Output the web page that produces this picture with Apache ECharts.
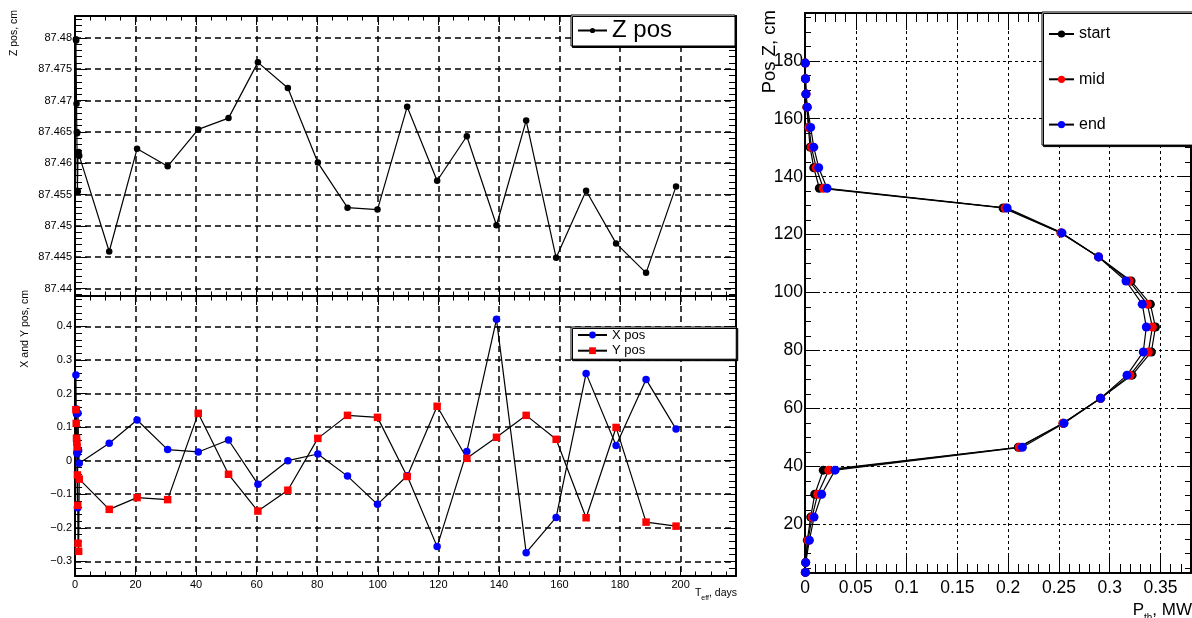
<!DOCTYPE html>
<html><head><meta charset="utf-8">
<script src="https://cdn.jsdelivr.net/npm/echarts@6/dist/echarts.min.js"></script>
<style>html,body{margin:0;padding:0;background:#fff}#c{width:1192px;height:618px}</style>
</head><body><div id="c"></div>
<script>
const FONT = '"Liberation Sans", Arial, Helvetica, sans-serif';

// ---- Left panels: time in days
const tDays = [0.3,0.4,0.5,0.6,0.7,0.8,0.9,1.0,1.2,1.4,
  11.3,20.5,30.6,40.7,50.7,60.4,70.3,80.2,90.0,99.9,109.7,119.6,129.4,139.2,149.0,158.9,168.8,178.7,188.6,198.5];
const zPos = [87.4798,87.4796,87.4695,87.4650,87.4648,87.4556,87.4555,87.4614,87.4618,87.4612,
  87.4459,87.4623,87.4595,87.4654,87.4672,87.4761,87.4720,87.4601,87.4529,87.4526,87.4690,87.4572,87.4643,87.4501,87.4668,87.4449,87.4556,87.4472,87.4425,87.4563];
const xPos = [0.255,0.154,0.139,0.025,0.021,-0.139,-0.140,0.141,0.030,-0.008,
  0.052,0.121,0.033,0.026,0.0615,-0.070,0.000,0.020,-0.046,-0.130,-0.045,-0.256,0.027,0.421,-0.274,-0.169,0.260,0.045,0.242,0.094];
const yPos = [0.152,0.111,0.067,0.055,0.041,-0.0425,-0.133,-0.246,-0.270,-0.055,
  -0.145,-0.110,-0.116,0.141,-0.0405,-0.150,-0.088,0.0665,0.135,0.129,-0.047,0.162,0.007,0.0696,0.135,0.0636,-0.170,0.099,-0.183,-0.195];

// ---- Right panel: axial profile
const zCm = [3.4,6.8,14.5,22.5,30.4,38.7,46.6,54.9,63.5,71.5,79.5,88.1,96.0,104.0,112.3,120.6,129.2,136.0,143.1,150.2,157.0,164.0,168.5,173.8,179.2];
const pStart = [0.0003,0.0006,0.0023,0.0056,0.0096,0.0180,0.210,0.254,0.291,0.322,0.341,0.345,0.340,0.321,0.289,0.252,0.195,0.0141,0.0086,0.0050,0.0033,0.0018,0.0008,0.0004,0.0002];
const pMid   = [0.0003,0.0006,0.0030,0.0069,0.0125,0.0234,0.211,0.254,0.291,0.320,0.338,0.342,0.337,0.319,0.289,0.252,0.197,0.0180,0.0110,0.0063,0.0040,0.0020,0.0010,0.0005,0.0003];
const pEnd   = [0.0004,0.0007,0.0043,0.0089,0.0164,0.0296,0.214,0.255,0.291,0.317,0.333,0.336,0.332,0.316,0.289,0.253,0.199,0.0217,0.0135,0.0086,0.0056,0.0023,0.0010,0.0005,0.0003];

// axis ranges (ROOT auto ranges)
const tRange = [0, 218.3];
const zRange = [87.4388, 87.4835];
const xyRange = [-0.3435, 0.4905];
const pRange = [0, 0.38];
const zcmRange = [3.2, 196.5];

function fmt(v){ return String(+(+v).toFixed(6)).replace('-', '\u2212'); }

function ax(o){
  return {
    type:'value', gridIndex:o.grid, position:o.pos,
    min:o.range[0], max:o.range[1], splitNumber:o.split,
    axisLine:{show:true, onZero:false, lineStyle:{color:'#000', width:2}},
    axisTick:{show:true, inside:true, length:o.tick, lineStyle:{color:'#000', width:1}},
    minorTick:{show:true, splitNumber:o.minor, length:o.minorLen, lineStyle:{color:'#000', width:1}},
    axisLabel: o.fs ? {show:true, margin:o.margin, fontSize:o.fs, fontFamily:FONT, color:'#000',
        formatter:fmt, showMinLabel:o.showMin, showMaxLabel:false} : {show:false},
    splitLine: o.gridLines ? {show:true, lineStyle:{color:'#000', width:o.gw, type:o.dash}} : {show:false},
    minorSplitLine:{show:false}
  };
}

const Ldash = [6,4], Rdash = [3,3];
const xAxes = [
  ax({grid:0,pos:'bottom',range:tRange,split:11,tick:9,minor:4,minorLen:4.5,gridLines:true,gw:1.5,dash:Ldash}),
  ax({grid:0,pos:'top',range:tRange,split:11,tick:9,minor:4,minorLen:4.5}),
  ax({grid:1,pos:'bottom',range:tRange,split:11,tick:9,minor:4,minorLen:4.5,gridLines:true,gw:1.5,dash:Ldash,fs:11,margin:3,showMin:true}),
  ax({grid:1,pos:'top',range:tRange,split:11,tick:9,minor:4,minorLen:4.5}),
  ax({grid:2,pos:'bottom',range:pRange,split:8,tick:17,minor:5,minorLen:9,gridLines:true,gw:1,dash:Rdash,fs:17.5,margin:6,showMin:true}),
  ax({grid:2,pos:'top',range:pRange,split:8,tick:17,minor:5,minorLen:9})
];
const yAxes = [
  ax({grid:0,pos:'left',range:zRange,split:9,tick:12,minor:5,minorLen:7,gridLines:true,gw:1.5,dash:Ldash,fs:11,margin:3,showMin:false}),
  ax({grid:0,pos:'right',range:zRange,split:9,tick:12,minor:5,minorLen:7}),
  ax({grid:1,pos:'left',range:xyRange,split:8,tick:12,minor:5,minorLen:7,gridLines:true,gw:1.5,dash:Ldash,fs:11,margin:3,showMin:false}),
  ax({grid:1,pos:'right',range:xyRange,split:8,tick:12,minor:5,minorLen:7}),
  ax({grid:2,pos:'left',range:zcmRange,split:10,tick:12,minor:4,minorLen:6,gridLines:true,gw:1,dash:Rdash,fs:17.5,margin:2,showMin:false}),
  ax({grid:2,pos:'right',range:zcmRange,split:10,tick:12,minor:4,minorLen:6})
];

function lineSeries(name, xi, yi, xs, ys, sym, size, color){
  return {
    name, type:'line', xAxisIndex:xi, yAxisIndex:yi,
    data: xs.map((x,i)=>[x, ys[i]]),
    symbol:sym, symbolSize:size, showSymbol:true,
    lineStyle:{color:'#000', width:1.2},
    itemStyle:{color:color},
    emphasis:{disabled:true}, silent:true, clip:false
  };
}

const legendBase = {
  selectedMode:false, backgroundColor:'#fff', borderColor:'#000', borderWidth:1,
  shadowColor:'#000', shadowOffsetX:1.5, shadowOffsetY:1.5, shadowBlur:0, borderRadius:0,
  orient:'vertical', align:'left'
};

const option = {
  animation:false,
  grid:[
    {left:75, top:16, width:661, height:280, outerBoundsMode:'none'},
    {left:75, top:296, width:661, height:280, outerBoundsMode:'none'},
    {left:805, top:13, width:386, height:560, outerBoundsMode:'none'}
  ],
  xAxis:xAxes, yAxis:yAxes,
  legend:[
    Object.assign({}, legendBase, {data:['Z pos'], left:571, top:15, padding:[3.5,63,3.5,6],
      itemWidth:29, itemHeight:6.5, textStyle:{fontSize:24, fontFamily:FONT, color:'#000'}}),
    Object.assign({}, legendBase, {data:['X pos','Y pos'], left:571, top:327, padding:[1.5,91,2,6], itemGap:2.7,
      itemWidth:29, itemHeight:8.5, textStyle:{fontSize:13, fontFamily:FONT, color:'#000'}}),
    Object.assign({}, legendBase, {data:['start','mid','end'], left:1042, top:12, padding:[14,100,12.5,6], itemGap:29.3,
      itemWidth:25, itemHeight:9, textStyle:{fontSize:16, fontFamily:FONT, color:'#000'}})
  ],
  series:[
    lineSeries('Z pos', 0, 0, tDays, zPos, 'circle', 6.5, '#000'),
    lineSeries('X pos', 2, 2, tDays, xPos, 'circle', 7.5, '#0000ff'),
    lineSeries('Y pos', 2, 2, tDays, yPos, 'rect', 7.5, '#ff0000'),
    lineSeries('start', 4, 4, pStart, zCm, 'circle', 9, '#000'),
    lineSeries('mid', 4, 4, pMid, zCm, 'circle', 9, '#ff0000'),
    lineSeries('end', 4, 4, pEnd, zCm, 'circle', 9, '#0000ff')
  ],
  graphic:[
    {type:'text', x:14, y:10, rotation:Math.PI/2, silent:true,
      style:{text:'Z pos, cm', font:'10.5px '+FONT, fill:'#000', textAlign:'right', textVerticalAlign:'middle', align:'right', verticalAlign:'middle'}},
    {type:'text', x:25.5, y:290, rotation:Math.PI/2, silent:true,
      style:{text:'X and Y pos, cm', font:'10.6px '+FONT, fill:'#000', textAlign:'right', textVerticalAlign:'middle', align:'right', verticalAlign:'middle'}},
    {type:'text', x:770, y:10, rotation:Math.PI/2, silent:true,
      style:{text:'Pos Z, cm', font:'18.5px '+FONT, fill:'#000', textAlign:'right', textVerticalAlign:'middle', align:'right', verticalAlign:'middle'}},
    {type:'text', x:737, y:593, silent:true,
      style:{text:'{a|T}{b|eff}{a|, days}', textAlign:'right', textVerticalAlign:'middle', align:'right', verticalAlign:'middle',
        rich:{a:{fontSize:10.5, fontFamily:FONT, fill:'#000', color:'#000', lineHeight:12},
              b:{fontSize:7, fontFamily:FONT, fill:'#000', color:'#000', lineHeight:12, verticalAlign:'bottom', padding:[0,0,-3,0]}}}},
    {type:'text', x:1192, y:610, silent:true,
      style:{text:'{a|P}{b|th}{a|, MW}', textAlign:'right', textVerticalAlign:'middle', align:'right', verticalAlign:'middle',
        rich:{a:{fontSize:17, fontFamily:FONT, fill:'#000', color:'#000', lineHeight:19},
              b:{fontSize:10, fontFamily:FONT, fill:'#000', color:'#000', lineHeight:19, verticalAlign:'bottom', padding:[0,0,-4,0]}}}}
  ]
};
const chart = echarts.init(document.getElementById('c'));
chart.setOption(option);
</script>
</body></html>
